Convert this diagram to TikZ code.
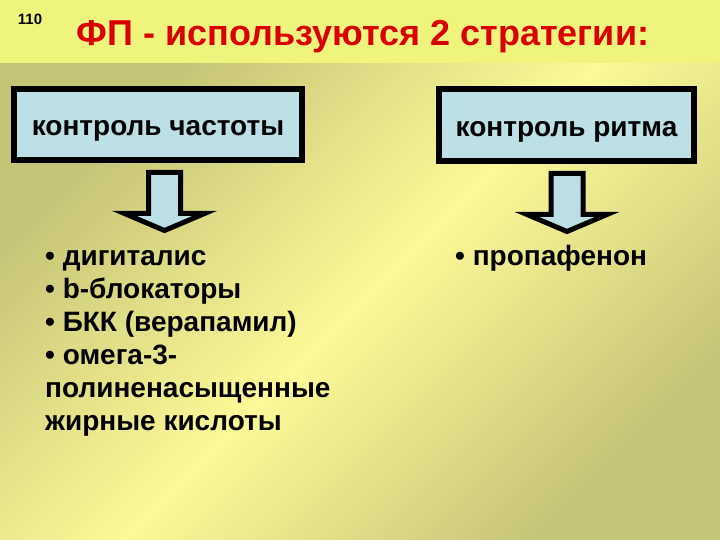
\documentclass[tikz,border=0pt]{standalone}
\usepackage{fontspec}
\setmainfont{Liberation Sans}
\usetikzlibrary{calc}

\definecolor{bandyellow}{RGB}{239,245,124}
\definecolor{paleyellow}{RGB}{252,249,152}
\definecolor{khaki}{RGB}{197,195,118}
\definecolor{boxblue}{RGB}{188,224,229}
\definecolor{titlered}{RGB}{218,0,0}

% 向下的块状箭头（左上角为起点）
\newcommand{\blockdown}[1]{%
  \draw[bigarrow] #1 -- ++(32,0) -- ++(0,41) -- ++(24,0) -- ++(-40,17)
    -- ++(-40,-17) -- ++(24,0) -- cycle;}

\begin{document}
\begin{tikzpicture}[x=1pt, y=-1pt,
    strategy/.style={draw=black, line width=6pt, fill=boxblue, inner sep=0pt,
      text height=23pt, text depth=0pt,
      font=\fontsize{28}{30}\selectfont\bfseries},
    item/.style={anchor=base west, inner sep=0pt,
      font=\fontsize{28}{30}\selectfont\bfseries},
    bigarrow/.style={draw=black, line width=5pt, fill=boxblue, line join=miter}]
  \useasboundingbox (0,0) rectangle (720,540);

  % 背景
  \fill[bandyellow] (0,0) rectangle (720,64);
  \shade[top color=khaki, bottom color=khaki, middle color=paleyellow,
    shading angle=45] (0,64) rectangle (720,540);

  % 页码和标题
  \node[inner sep=0pt, font=\fontsize{15}{17}\selectfont\bfseries] (num) at (30,19) {110};
  \node[inner sep=0pt, text=titlered, font=\fontsize{36}{40}\selectfont\bfseries]
    (title) at (363,37) {ФП - используются 2 стратегии:};

  % 两种策略
  \node[strategy, minimum width=288pt, minimum height=71pt] (rate) at (158,124.5) {контроль частоты};
  \node[strategy, minimum width=255pt, minimum height=72pt] (rhythm) at (566.5,125) {контроль ритма};

  % 箭头
  \blockdown{($(rate.south)+(-9.5,9.5)$)}
  \blockdown{($(rhythm.south)+(-15.5,9.5)$)}

  % 药物列表
  \foreach \t [count=\i] in {• дигиталис, • b-блокаторы, • БКК (верапамил),
      • омега-3-, полиненасыщенные, жирные кислоты}
    \node[item] (drug\i) at (45,232+33*\i) {\t};
  \node[item] (prop) at (455,265) {• пропафенон};
\end{tikzpicture}
\end{document}
